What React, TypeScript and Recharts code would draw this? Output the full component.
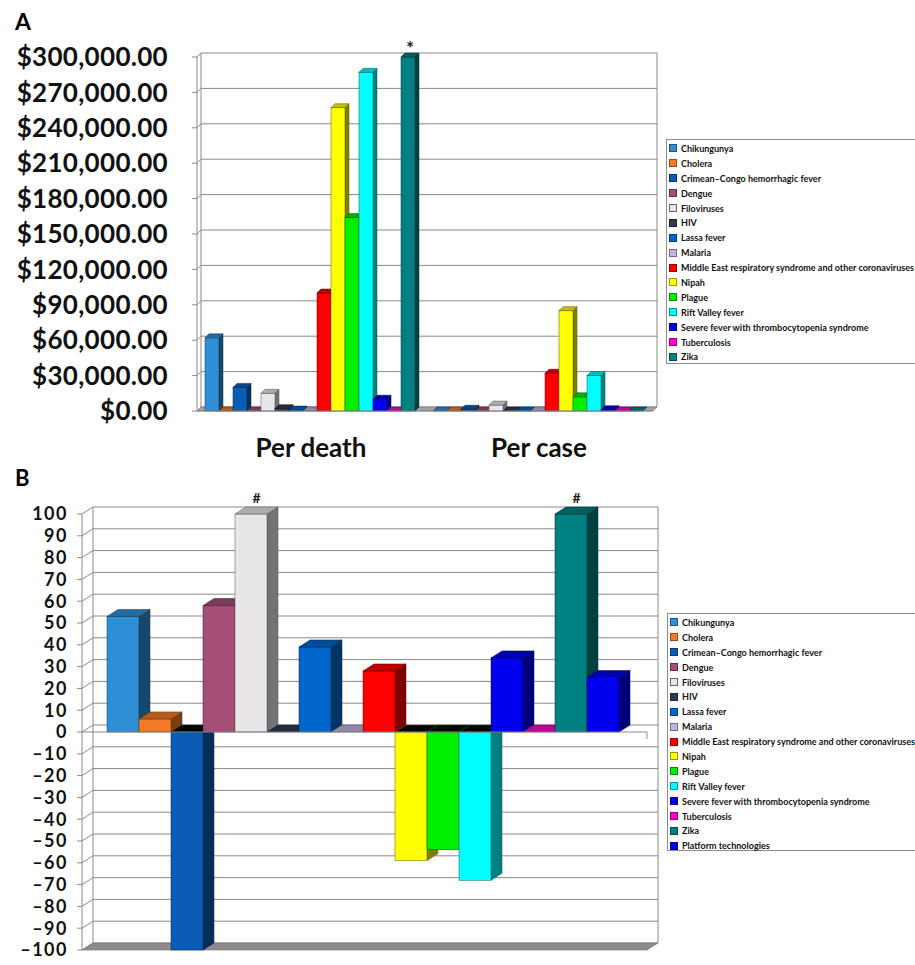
import {
  BarChart,
  Bar,
  XAxis,
  YAxis,
  CartesianGrid,
  ReferenceArea,
  ReferenceLine,
  Legend,
  LabelList,
} from "recharts";

// ── Data ────────────────────────────────────────────────────────────────

const diseases = [
  "Chikungunya",
  "Cholera",
  "Crimean–Congo hemorrhagic fever",
  "Dengue",
  "Filoviruses",
  "HIV",
  "Lassa fever",
  "Malaria",
  "Middle East respiratory syndrome and other coronaviruses",
  "Nipah",
  "Plague",
  "Rift Valley fever",
  "Severe fever with thrombocytopenia syndrome",
  "Tuberculosis",
  "Zika",
];

const diseaseColors = [
  "#2e8fd6", "#f47b25", "#0b5cb6", "#a54e76", "#e8e6e8",
  "#2f3b52", "#0066cc", "#bdb6e3", "#ff0000", "#ffff00",
  "#00ee00", "#00ffff", "#0000ee", "#ff00cc", "#008080",
];

const costCategories = ["Per death", "Per case"];
const costPerDeath = [62000, 0, 20000, 0, 15000, 2000, 800, 0, 100000, 257000, 164000, 287000, 10000, 0, 300000];
const costPerCase = [0, 0, 1500, 0, 5000, 0, 0, 0, 32000, 85000, 12000, 30000, 1000, 0, 0];
const costTicks = [0, 30000, 60000, 90000, 120000, 150000, 180000, 210000, 240000, 270000, 300000];
const costMarks: Record<string, string[]> = { Zika: ["*", ""] };

const prepNames = [...diseases, "Platform technologies"];
const prepColors = [...diseaseColors, "#0000ee"];
const prepValues = [53, 6, -100, 58, 100, 0, 39, 0, 28, -59, -54, -68, 34, 0, 100, 25];
const prepTicks = [-100, -90, -80, -70, -60, -50, -40, -30, -20, -10, 0, 10, 20, 30, 40, 50, 60, 70, 80, 90, 100];
const prepMarks: Record<string, string[]> = { Filoviruses: ["#"], Zika: ["#"] };

const costRows = costCategories.map((cat, c) => {
  const row: Record<string, string | number> = { cat };
  diseases.forEach((_, i) => {
    row[`s${i}`] = c === 0 ? costPerDeath[i] : costPerCase[i];
  });
  return row;
});

const prepRows = [
  prepNames.reduce<Record<string, string | number>>(
    (row, _, i) => ({ ...row, [`s${i}`]: prepValues[i] }),
    { cat: "all" }
  ),
];

// ── Helpers ─────────────────────────────────────────────────────────────

const FONT = "Lato, 'Liberation Sans', sans-serif";
const LINE = "#8a8a8a";

function shade(hex: string, k: number) {
  const n = parseInt(hex.slice(1), 16);
  const r = Math.round(((n >> 16) & 255) * k);
  const g = Math.round(((n >> 8) & 255) * k);
  const b = Math.round((n & 255) * k);
  return `rgb(${r},${g},${b})`;
}

// 3D-ish box: front face, right side, lid
function box(dx: number, dy: number, color: string) {
  return (p: any) => {
    const { x, y, width: w, height } = p;
    if (x == null || y == null || !isFinite(y)) return <g />;
    const top = Math.min(y, y + height);
    const h = Math.abs(height);
    const v = Array.isArray(p.value) ? p.value[1] : p.value;
    const lid = v < 0 ? "#050505" : shade(color, 0.75);
    const edge = shade(color, 0.35);
    return (
      <g>
        {h > 0 && (
          <polygon
            points={`${x + w},${top} ${x + w + dx},${top + dy} ${x + w + dx},${top + h + dy} ${x + w},${top + h}`}
            fill={shade(color, 0.5)}
            stroke={edge}
            strokeWidth={0.5}
          />
        )}
        {h > 0 && <rect x={x} y={top} width={w} height={h} fill={color} stroke={edge} strokeWidth={0.5} />}
        <polygon
          points={`${x},${top} ${x + dx},${top + dy} ${x + w + dx},${top + dy} ${x + w},${top}`}
          fill={lid}
          stroke={edge}
          strokeWidth={0.5}
        />
      </g>
    );
  };
}

function gridLine(dx: number, dy: number) {
  return (p: any) => (
    <g key={`g-${p.y1}`}>
      <line x1={p.x1 - 5} y1={p.y1} x2={p.x1} y2={p.y1} stroke={LINE} />
      <line x1={p.x1} y1={p.y1} x2={p.x1 + dx} y2={p.y1 + dy} stroke={LINE} />
      <line x1={p.x1 + dx} y1={p.y1 + dy} x2={p.x2 + dx} y2={p.y1 + dy} stroke={LINE} />
    </g>
  );
}

function walls(dx: number, dy: number, floor: string) {
  return (p: any) => {
    const { x, y, width: w, height: h } = p;
    return (
      <g>
        <line x1={x + dx} y1={y + dy} x2={x + dx} y2={y + h + dy} stroke={LINE} />
        <line x1={x + w + dx} y1={y + dy} x2={x + w + dx} y2={y + h + dy} stroke={LINE} />
        <polygon
          points={`${x},${y + h} ${x + dx},${y + h + dy} ${x + w + dx},${y + h + dy} ${x + w},${y + h}`}
          fill={floor}
          stroke="#6e6e6e"
          strokeWidth={0.6}
        />
      </g>
    );
  };
}

function capMark(marks: string[] | undefined, dx: number, dy: number, size: number, lift: number) {
  return (p: any) => {
    const m = marks?.[p.index];
    if (!m) return null;
    const top = Math.min(p.y, p.y + p.height);
    return (
      <text
        x={p.x + p.width / 2 + dx / 2}
        y={top + dy - lift}
        textAnchor="middle"
        fontSize={size}
        fontWeight="bold"
        fontFamily={FONT}
        fill="#222"
      >
        {m}
      </text>
    );
  };
}

function LegendBox({ names, colors, height }: { names: string[]; colors: string[]; height: number }) {
  return (
    <div
      style={{
        width: 262,
        height,
        border: "1px solid #8c8c8c",
        boxSizing: "border-box",
        paddingTop: 1,
        background: "#fff",
        fontFamily: FONT,
        fontWeight: "bold",
        fontSize: 9,
        color: "#111",
        whiteSpace: "nowrap",
      }}
    >
      {names.map((n, i) => (
        <div key={n} style={{ height: 14.9, display: "flex", alignItems: "center" }}>
          <span
            style={{
              width: 6,
              height: 6,
              marginLeft: 2,
              marginRight: 4,
              background: colors[i],
              border: `1px solid ${shade(colors[i] === "#e8e6e8" ? "#aaaaaa" : colors[i], 0.6)}`,
              flex: "none",
            }}
          />
          {n}
        </div>
      ))}
    </div>
  );
}

const costFmt = (v: number) =>
  "$" + v.toLocaleString("en-US", { minimumFractionDigits: 2, maximumFractionDigits: 2 });
const prepFmt = (v: number) => (v < 0 ? `–${-v}` : `${v}`);

// ── Component ───────────────────────────────────────────────────────────

export default function App() {
  const dA = { dx: 4, dy: -4 };
  const dB = { dx: 11, dy: -7 };

  return (
    <div
      style={{
        position: "absolute",
        left: 0,
        top: 0,
        width: 915,
        height: 965,
        overflow: "hidden",
        background: "#fff",
        fontFamily: FONT,
      }}
    >
      <div style={{ position: "absolute", left: 15, top: 10, fontSize: 23, lineHeight: "23px", fontWeight: "bold" }}>A</div>

      {/* Panel A: cost */}
      <div style={{ position: "absolute", left: 0, top: 0 }}>
        <BarChart
          width={915}
          height={465}
          data={costRows}
          margin={{ top: 57, right: 262, bottom: 4, left: 0 }}
          barCategoryGap={8}
          barGap={0}
        >
          <ReferenceArea y1={0} y2={300000} shape={walls(dA.dx, dA.dy, "#a3a3a3")} />
          <CartesianGrid vertical={false} horizontal={gridLine(dA.dx, dA.dy)} />
          <XAxis
            dataKey="cat"
            height={50}
            interval={0}
            tickLine={false}
            tickSize={0}
            tickMargin={28}
            axisLine={{ stroke: LINE }}
            tick={{ fontSize: 26, fontWeight: "bold", fill: "#111", fontFamily: FONT }}
          />
          <YAxis
            width={197}
            domain={[0, 300000]}
            ticks={costTicks}
            tickFormatter={costFmt}
            tickSize={0}
            tickMargin={29}
            axisLine={{ stroke: LINE }}
            tickLine={false}
            tick={{ fontSize: 26, fontWeight: "bold", fill: "#111", fontFamily: FONT, letterSpacing: 0.3 }}
          />
          {diseases.map((name, i) => (
            <Bar
              key={name}
              dataKey={`s${i}`}
              name={name}
              fill={diseaseColors[i]}
              shape={box(dA.dx, dA.dy, diseaseColors[i])}
              isAnimationActive={false}
            >
              {costMarks[name] && <LabelList content={capMark(costMarks[name], dA.dx, dA.dy, 19, -2)} />}
            </Bar>
          ))}
          <Legend
            layout="vertical"
            align="center"
            verticalAlign="middle"
            wrapperStyle={{ left: 666, top: 139, width: 262 }}
            content={() => <LegendBox names={diseases} colors={diseaseColors} height={225} />}
          />
        </BarChart>
      </div>

      <div style={{ position: "absolute", left: 15, top: 467, fontSize: 22, lineHeight: "22px", fontWeight: "bold" }}>B</div>

      {/* Panel B: preparedness */}
      <div style={{ position: "absolute", left: 0, top: 465 }}>
        <BarChart
          width={915}
          height={500}
          data={prepRows}
          margin={{ top: 49, right: 268, bottom: 15, left: 0 }}
          barCategoryGap={25}
          barGap={0}
        >
          <ReferenceArea y1={-100} y2={100} shape={walls(dB.dx, dB.dy, "#8c8c8c")} />
          <CartesianGrid vertical={false} horizontal={gridLine(dB.dx, dB.dy)} />
          <XAxis dataKey="cat" hide />
          <YAxis
            width={82}
            domain={[-100, 100]}
            ticks={prepTicks}
            interval={0}
            tickFormatter={prepFmt}
            tickSize={0}
            tickMargin={14}
            tickLine={false}
            axisLine={{ stroke: LINE }}
            tick={{ fontSize: 18, fontWeight: "bold", fill: "#111", fontFamily: FONT, letterSpacing: 1.5 }}
          />
          {prepNames.map((name, i) => (
            <Bar
              key={name}
              dataKey={`s${i}`}
              name={name}
              fill={prepColors[i]}
              shape={box(dB.dx, dB.dy, prepColors[i])}
              isAnimationActive={false}
            >
              {prepMarks[name] && <LabelList content={capMark(prepMarks[name], dB.dx, dB.dy, 14, 4)} />}
            </Bar>
          ))}
          <ReferenceLine
            y={0}
            stroke={LINE}
            shape={(p: any) => (
              <g>
                <line x1={p.x1} y1={p.y1} x2={p.x2} y2={p.y2} stroke={LINE} />
                <line x1={p.x2} y1={p.y2} x2={p.x2} y2={p.y2 + 7} stroke={LINE} />
              </g>
            )}
          />
          <Legend
            layout="vertical"
            align="center"
            verticalAlign="middle"
            wrapperStyle={{ left: 667, top: 148, width: 262 }}
            content={() => <LegendBox names={prepNames} colors={prepColors} height={238} />}
          />
        </BarChart>
      </div>
    </div>
  );
}
